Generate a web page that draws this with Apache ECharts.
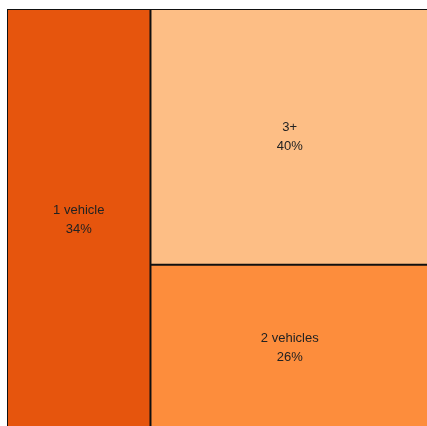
<!DOCTYPE html>
<html>
<head>
<meta charset="utf-8">
<script src="https://cdn.jsdelivr.net/npm/echarts@6/dist/echarts.min.js"></script>
<style>html,body{margin:0;padding:0;background:#fff;}#c{width:427px;height:426px;}</style>
</head>
<body>
<div id="c"></div>
<script>
const categories = ['1 vehicle', '3+', '2 vehicles'];
const values = [34, 40, 26];
const colors = ['#E6550D', '#FDBE85', '#FD8D3C'];

function leaf(i) {
  return { name: categories[i], value: values[i], itemStyle: { color: colors[i], borderWidth: 1, borderColor: '#111' } };
}
const data = [
  leaf(0),
  { name: '', value: values[1] + values[2], itemStyle: { borderWidth: 0, gapWidth: 0 }, children: [leaf(1), leaf(2)] }
];

const chart = echarts.init(document.getElementById('c'), null, { renderer: 'canvas' });
chart.setOption({
  animation: false,
  series: [{
    type: 'treemap',
    left: 7, top: 9, width: 422, height: 422,
    sort: false,
    roam: false,
    nodeClick: false,
    breadcrumb: { show: false },
    squareRatio: 1,
    label: {
      show: true,
      position: 'inside',
      align: 'center',
      verticalAlign: 'middle',
      formatter: p => p.name + '\n' + p.value + '%',
      fontFamily: 'Liberation Sans, Arial, sans-serif',
      fontSize: 13,
      lineHeight: 19,
      color: '#222'
    },
    upperLabel: { show: false },
    levels: [
      { itemStyle: { borderWidth: 0, gapWidth: 0, borderColor: '#111' } },
      { itemStyle: { borderWidth: 1, gapWidth: 0, borderColor: '#111' } },
      { itemStyle: { borderWidth: 1, gapWidth: 0, borderColor: '#111' } }
    ],
    data: data
  }]
});
</script>
</body>
</html>
